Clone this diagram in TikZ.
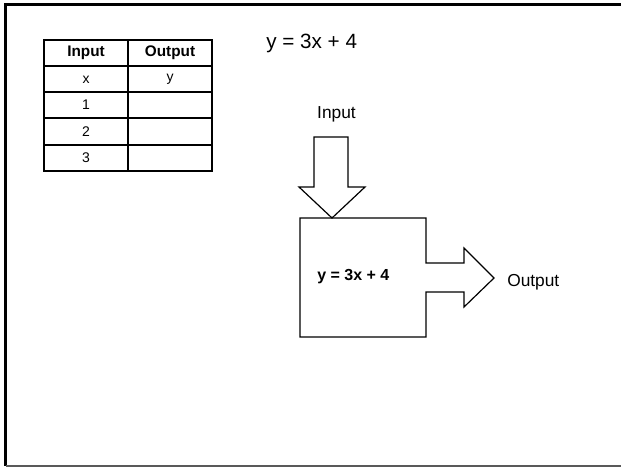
\documentclass[tikz,border=0pt]{standalone}
\usepackage{fontspec}
\setmainfont{Liberation Sans}
\begin{document}
\begin{tikzpicture}[x=0.75pt,y=-0.75pt,
  outline/.style={draw=black,line width=0.9pt,line join=miter},
  cell/.style={inner sep=0pt,font=\fontsize{10.5}{12}\selectfont},
  headcell/.style={inner sep=0pt,font=\fontsize{11.5}{13}\selectfont\bfseries},
  lbl/.style={inner sep=0pt,font=\fontsize{13}{15}\selectfont}]
\useasboundingbox (0,0) rectangle (621,468);
% frame
\draw[line width=2pt] (621,4.5) -- (5.5,4.5) -- (5.5,466);
\draw[draw=black!65,line width=1.6pt] (5.5,466) -- (621,466);
% title
\node[lbl,font=\fontsize{15.5}{18}\selectfont,anchor=west] (title) at (266,43) {y = 3x + 4};
% table
\draw[outline] (44,40) rectangle (212,171);
\draw[outline] (128,40) -- (128,171);
\foreach \yy in {66,92,118,145} \draw[outline] (44,\yy) -- (212,\yy);
\node[headcell] (hin) at (86,53) {Input};
\node[headcell] (hout) at (170,53) {Output};
\node[cell] (cx) at (86,79.5) {x};
\node[cell] (cy) at (170,79.5) {y};
\node[cell] (c1) at (86,105) {1};
\node[cell] (c2) at (86,131.5) {2};
\node[cell] (c3) at (86,158) {3};
% function machine
\coordinate (tip) at (332,218);
\draw[outline] (314,137) -- (348,137) -- (348,187) -- (365,187) -- (tip)
  -- (299,187) -- (314,187) -- cycle;
\draw[outline] (300,218) -- (tip) -- (426,218) -- (426,263) -- (464,263)
  -- (464,248) -- (494,278) -- (464,307) -- (464,292) -- (426,292)
  -- (426,337) -- (300,337) -- cycle;
\node[lbl,anchor=south] (inlbl) at (336.5,122) {Input};
\node[inner sep=0pt,font=\fontsize{12}{14}\selectfont\bfseries,anchor=west] (fn) at (317,277) {y = 3x + 4};
\node[lbl,anchor=west] (outlbl) at (507,282) {Output};
\end{tikzpicture}
\end{document}
